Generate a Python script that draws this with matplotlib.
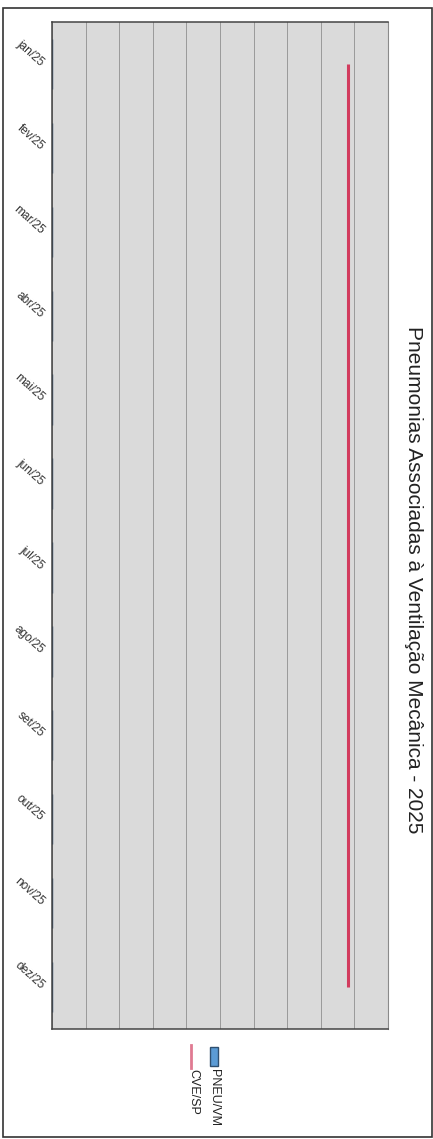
import matplotlib
matplotlib.use("Agg")
import matplotlib.pyplot as plt
from matplotlib.patches import Rectangle
from matplotlib.lines import Line2D

plt.rcParams['font.family'] = ['Liberation Sans', 'DejaVu Sans']

# data (page is scanned rotated 90 degrees, so months run down the page)
months = ["jan/25", "fev/25", "mar/25", "abr/25", "mai/25", "jun/25",
          "jul/25", "ago/25", "set/25", "out/25", "nov/25", "dez/25"]
pneu_vm = [0, 0, 0, 0, 0, 0, 0, 0, 0, 0, 0, 0]
cve_sp = [8.8, 8.8, 8.8, 8.8, 8.8, 8.8, 8.8, 8.8, 8.8, 8.8, 8.8, 8.8]
value_ticks = [0, 1, 2, 3, 4, 5, 6, 7, 8, 9, 10]

W, H = 433, 1139
fig = plt.figure(figsize=(W / 100, H / 100), dpi=100)


def fx(x):
    return x / W


def fy(y):
    return 1 - y / H


ax = fig.add_axes([fx(52), fy(1029), fx(388) - fx(52), fy(22) - fy(1029)])
ax.set_facecolor('#dadada')

pos = list(range(len(months)))
ax.barh(pos, pneu_vm, height=0.6, color='#5b9bd5', edgecolor='#2f4f6f')
ax.plot(cve_sp, pos, color='#d23c5e', lw=2.2, solid_capstyle='butt', zorder=3)

ax.set_xlim(value_ticks[0], value_ticks[-1])
ax.set_xticks(value_ticks)
ax.set_xticklabels([])
ax.set_ylim(len(months) - 0.5, -0.5)
ax.set_yticks(pos)
ax.set_yticklabels(months, rotation=-42, ha='right', va='center',
                   rotation_mode='anchor', fontsize=8.5, color='#333333')
ax.tick_params(axis='both', length=0, pad=7)
ax.grid(axis='x', color='#9a9a9a', lw=0.7)
ax.set_axisbelow(True)
for side, s in ax.spines.items():
    s.set_color('#444444')
    s.set_linewidth(1.1)
ax.spines['right'].set_color('#8a8a8a')
ax.spines['right'].set_linewidth(0.8)

# title, rotated with the page
fig.text(fx(413), fy(580), "Pneumonias Associadas à Ventilação Mecânica - 2025",
         rotation=-90, ha='center', va='center', fontsize=15, color='#222222')

# legend drawn by hand because of the rotation
fig.add_artist(Rectangle((fx(210), fy(1066)), fx(8), fy(1047) - fy(1066),
                         transform=fig.transFigure, facecolor='#5b9bd5',
                         edgecolor='#2f4f6f', lw=1.0))
fig.text(fx(214), fy(1069), "PNEU/VM", rotation=-90, rotation_mode='anchor',
         ha='left', va='center', fontsize=9, color='#222222')
fig.add_artist(Line2D([fx(191), fx(191)], [fy(1045), fy(1068)],
                      transform=fig.transFigure, color='#e07a92', lw=2.0))
fig.text(fx(193), fy(1069), "CVE/SP", rotation=-90, rotation_mode='anchor',
         ha='left', va='center', fontsize=9, color='#222222')

# outer page frame
fig.add_artist(Rectangle((fx(3), fy(1137)), fx(429), fy(8) - fy(1137),
                         transform=fig.transFigure, fill=False,
                         edgecolor='#333333', lw=1.2))

fig.savefig("out.png", dpi=100)
